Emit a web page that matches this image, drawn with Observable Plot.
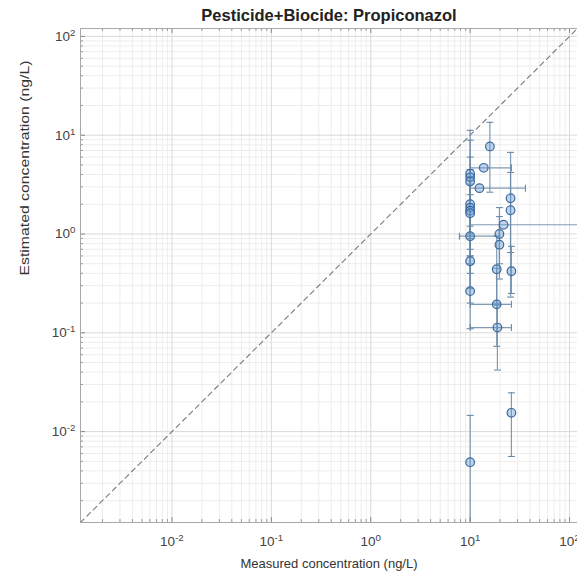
<!DOCTYPE html>
<html>
<head>
<meta charset="utf-8">
<script src="https://cdn.jsdelivr.net/npm/d3@7"></script>
<script src="https://cdn.jsdelivr.net/npm/@observablehq/plot@0.6"></script>
<style>
  body { margin: 0; background: #fff; }
  #chart svg { font-family: "Liberation Sans", Arial, Helvetica, sans-serif; }
</style>
</head>
<body>
<div id="chart"></div>
<script>
// ---- text ----
const title = "Pesticide+Biocide: Propiconazol";
const xLabel = "Measured concentration (ng/L)";
const yLabel = "Estimated concentration (ng/L)";

// ---- data ----
const measured  = [10, 10, 10, 10, 10, 10, 10, 10, 10, 10, 10, 15.8, 13.7, 12.4, 25.5, 25.5, 21.7, 19.7, 19.7, 18.5, 26, 18.5, 18.8, 26];
const estimated = [4.07, 3.75, 3.4, 2.0, 1.85, 1.72, 1.62, 0.95, 0.53, 0.264, 0.0049, 7.7, 4.68, 2.91, 2.3, 1.74, 1.24, 1.0, 0.78, 0.44, 0.42, 0.194, 0.113, 0.0155];
const estLow    = [1.2, 1.0, 0.9, 0.6, 0.5, 0.7, 0.4, 0.28, 0.2, 0.11, 0.0004, 2.65, null, null, 0.23, 0.65, null, 0.5, 0.35, 0.2, 0.25, 0.073, 0.042, 0.0056];
const estHigh   = [11.2, 8.9, 6.0, 4.5, 3.8, 3.5, 3.2, 2.5, 0.95, 0.6, 0.0146, 13.5, null, null, 6.7, 4.2, null, 1.85, 1.5, 0.95, 0.75, 0.45, 0.19, 0.0247];
const measLow   = [null, null, null, null, null, null, null, 7.8, null, null, null, null, 10, 10, null, null, 10, null, null, null, null, 10, 10, null];
const measHigh  = [null, null, null, null, null, null, null, 19.8, null, null, null, null, 26, 36, null, null, 300, null, null, null, null, 26, 26, null];

// ---- axes ----
const tickValues = [0.01, 0.1, 1, 10, 100];
const domain = [Math.pow(10, -2.92), Math.pow(10, 2.08)];

const points = measured.map((x, i) => ({
  x, y: estimated[i], ylo: estLow[i], yhi: estHigh[i], xlo: measLow[i], xhi: measHigh[i]
}));
const vbars = points.filter(d => d.ylo != null);
const hbars = points.filter(d => d.xlo != null);
const vcaps = vbars.flatMap(d => [{x: d.x, y: d.ylo}, {x: d.x, y: d.yhi}]);
const hcaps = hbars.flatMap(d => [{x: d.xlo, y: d.y}, {x: d.xhi, y: d.y}]);

const minorTicks = d3.scaleLog().domain(domain).ticks().filter(t => !tickValues.includes(t));
const diag = domain.map(v => ({v}));

const capH = {draw(ctx, size) { const r = Math.sqrt(size / Math.PI); ctx.moveTo(-r, 0); ctx.lineTo(r, 0); }};
const capV = {draw(ctx, size) { const r = Math.sqrt(size / Math.PI); ctx.moveTo(0, -r); ctx.lineTo(0, r); }};

const barColor = "#6a8aa8";
const lo = domain[0], hi = domain[1];
const k = (d) => Math.pow(10, d);

const chart = Plot.plot({
  width: 577,
  height: 584,
  marginLeft: 80,
  marginRight: 0,
  marginTop: 28,
  marginBottom: 62,
  style: {fontSize: "13.5px", fontFamily: "Liberation Sans, Arial, sans-serif", color: "#404040", background: "#fff"},
  x: {type: "log", domain, ticks: tickValues, tickSize: 0, tickPadding: 14,
      tickFormat: d => "10^" + Math.round(Math.log10(d)), label: null},
  y: {type: "log", domain, ticks: tickValues, tickSize: 0, tickPadding: 5,
      tickFormat: d => "10^" + Math.round(Math.log10(d)), label: null},
  marks: [
    // grid
    Plot.ruleX(minorTicks, {stroke: "#ededed", strokeWidth: 1}),
    Plot.ruleY(minorTicks, {stroke: "#ededed", strokeWidth: 1}),
    Plot.ruleX(tickValues, {stroke: "#dadada", strokeWidth: 1}),
    Plot.ruleY(tickValues, {stroke: "#dadada", strokeWidth: 1}),
    // inward tick marks (box)
    Plot.ruleX(minorTicks, {x: d => d, y1: lo, y2: lo * k(0.03), stroke: "#9a9a9a"}),
    Plot.ruleX(minorTicks, {x: d => d, y1: hi, y2: hi / k(0.03), stroke: "#9a9a9a"}),
    Plot.ruleY(minorTicks, {y: d => d, x1: lo, x2: lo * k(0.03), stroke: "#9a9a9a"}),
    Plot.ruleX(tickValues, {x: d => d, y1: lo, y2: lo * k(0.05), stroke: "#888"}),
    Plot.ruleX(tickValues, {x: d => d, y1: hi, y2: hi / k(0.05), stroke: "#888"}),
    Plot.ruleY(tickValues, {y: d => d, x1: lo, x2: lo * k(0.05), stroke: "#888"}),
    Plot.frame({stroke: "#a8a8a8"}),
    // 1:1 line
    Plot.line(diag, {x: "v", y: "v", stroke: "#7a7a7a", strokeWidth: 1.1, strokeDasharray: "5,4", clip: true}),
    // error bars
    Plot.ruleX(vbars, {x: "x", y1: "ylo", y2: "yhi", stroke: barColor, strokeWidth: 1.2, strokeOpacity: 0.85, clip: true}),
    Plot.ruleY(hbars, {y: "y", x1: "xlo", x2: "xhi", stroke: barColor, strokeWidth: 1.2, strokeOpacity: 0.85, clip: true}),
    Plot.dot(vcaps, {x: "x", y: "y", symbol: capH, r: 3.5, stroke: barColor, strokeWidth: 1.1, fill: "none", clip: true}),
    Plot.dot(hcaps, {x: "x", y: "y", symbol: capV, r: 3.5, stroke: barColor, strokeWidth: 1.1, fill: "none", clip: true}),
    // markers
    Plot.dot(points, {x: "x", y: "y", r: 4.3, fill: "#6a9bd1", fillOpacity: 0.42, stroke: "#3d6a9e", strokeWidth: 1.2}),
    // title and labels
    Plot.text([title], {text: d => d, frameAnchor: "top", dy: -8, lineAnchor: "bottom", fontWeight: "bold", fontSize: 16.5, fill: "#222"}),
    Plot.text([xLabel], {text: d => d, frameAnchor: "bottom", dy: 41, lineAnchor: "middle", fontSize: 13, fill: "#333"}),
    Plot.text([yLabel], {text: d => d, frameAnchor: "left", dx: -56, rotate: -90, lineAnchor: "middle", fontSize: 13, fill: "#333"})
  ]
});

// superscript exponents on tick labels
const ns = "http://www.w3.org/2000/svg";
chart.querySelectorAll("text").forEach(t => {
  const m = /^10\^(-?\d+)$/.exec(t.textContent);
  if (m) {
    t.textContent = "";
    const a = document.createElementNS(ns, "tspan");
    a.textContent = "10";
    const b = document.createElementNS(ns, "tspan");
    b.textContent = m[1];
    b.setAttribute("dy", "-0.5em");
    b.setAttribute("font-size", "0.72em");
    t.append(a, b);
    t.setAttribute("fill", "#444");
  } else if (t.textContent === yLabel) {
    t.setAttribute("textLength", "215");
    t.setAttribute("lengthAdjust", "spacingAndGlyphs");
  }
});

document.getElementById("chart").append(chart);
</script>
</body>
</html>
